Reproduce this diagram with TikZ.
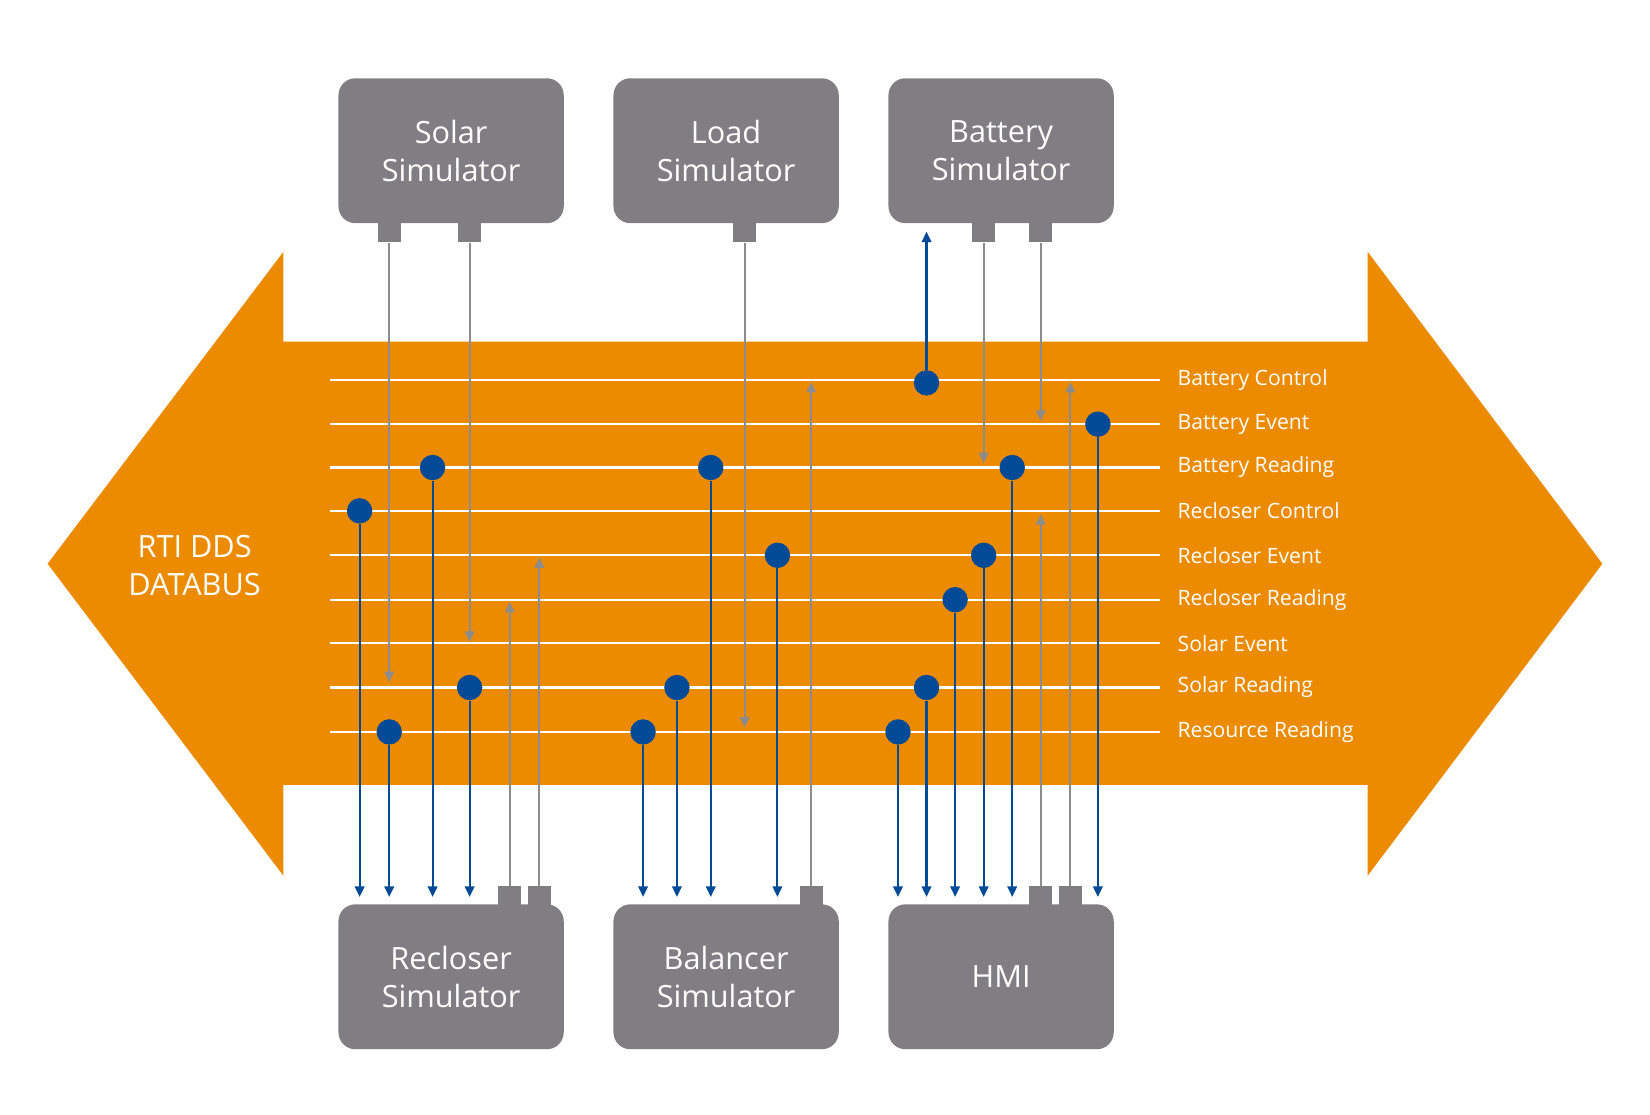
\documentclass[tikz,border=0pt]{standalone}
\usepackage{fontspec}
\setmainfont{Open Sans}
\usetikzlibrary{arrows.meta}
\definecolor{bus}{HTML}{EC8B00}
\definecolor{box}{HTML}{807E82}
\definecolor{dot}{HTML}{004A98}
\definecolor{garr}{HTML}{8C8C8C}
\begin{document}
\begin{tikzpicture}[x=0.5pt,y=-0.5pt,
  sim/.style={fill=box,rounded corners=8pt,minimum width=106.5pt,minimum height=68.5pt,text=white,font=\fontsize{14.5}{18}\selectfont,align=center,inner sep=0pt},
  port/.style={fill=box,minimum width=11pt,minimum height=9pt,inner sep=0pt},
  dt/.style={circle,fill=dot,minimum size=12pt,inner sep=0pt},
  bl/.style={draw=dot,line width=1pt,-{Triangle[length=5pt,width=4.5pt]}},
  gr/.style={draw=garr,line width=1pt,-{Triangle[length=5pt,width=4.5pt]}},
  topic/.style={text=white,anchor=west,font=\fontsize{10}{11}\selectfont,inner sep=0pt}]
\useasboundingbox (0,0) rectangle (1560,1054);
\fill[bus] (45,533) -- (268,238) -- (268,323) -- (1293,323) -- (1293,238) -- (1515,533) -- (1293,828) -- (1293,742) -- (268,742) -- (268,828) -- cycle;
\node[text=white,align=center,font=\fontsize{14.5}{18}\selectfont] (rti) at (184,535) {RTI DDS\\DATABUS};
\foreach \y/\t/\n in {359/Battery Control/bc,401/Battery Event/be,442/Battery Reading/br,483/Recloser Control/rc,525/Recloser Event/re,567/Recloser Reading/rr,608/Solar Event/se,650/Solar Reading/sr,692/Resource Reading/rs}{
  \draw[white,line width=1pt] (312,\y) -- (1097,\y);
  \node[topic] (\n) at (1113,\y) {\t};
}
% boxes
\node[sim] (solar) at (426.5,142.5) {Solar\\Simulator};
\node[sim] (load) at (686.5,142.5) {Load\\Simulator};
\node[sim] (batt) at (946.5,142.5) {Battery\\Simulator};
\node[sim] (recl) at (426.5,923.5) {Recloser\\Simulator};
\node[sim] (bal) at (686.5,923.5) {Balancer\\Simulator};
\node[sim] (hmi) at (946.5,923.5) {HMI};
% ports
\foreach \x/\n in {368/p1,444/p2,704/p3,930/p4,984/p5}{\node[port] (\n) at (\x,220) {};}
\foreach \x/\n in {482/q1,510/q2,767/q3,984/q4,1012/q5}{\node[port] (\n) at (\x,847) {};}
% gray arrows
\foreach \n/\x/\y in {p1/368/645,p2/444/607,p3/704/688,p4/930/438,p5/984/398,q1/482/569,q2/510/527,q3/767/361,q4/984/486,q5/1012/361}{
  \coordinate (e\n) at (\x,\y);
  \draw[gr] (\n) -- (e\n);
}
% blue
\foreach \x/\y/\n in {340/483/d1,368/692/d2,409/442/d3,444/650/d4,608/692/d5,640/650/d6,672/442/d7,735/525/d8,849/692/d9,876/650/d10,903/567/d11,930/525/d12,957/442/d13,1038/401/d14}{
  \node[dt] (\n) at (\x,\y) {};
  \coordinate (f\n) at (\x,848);
  \draw[bl] (\n) -- (f\n);
}
\node[dt] (d15) at (876,362) {};
\coordinate (t15) at (876,219);
\draw[bl] (d15) -- (t15);
\end{tikzpicture}
\end{document}
